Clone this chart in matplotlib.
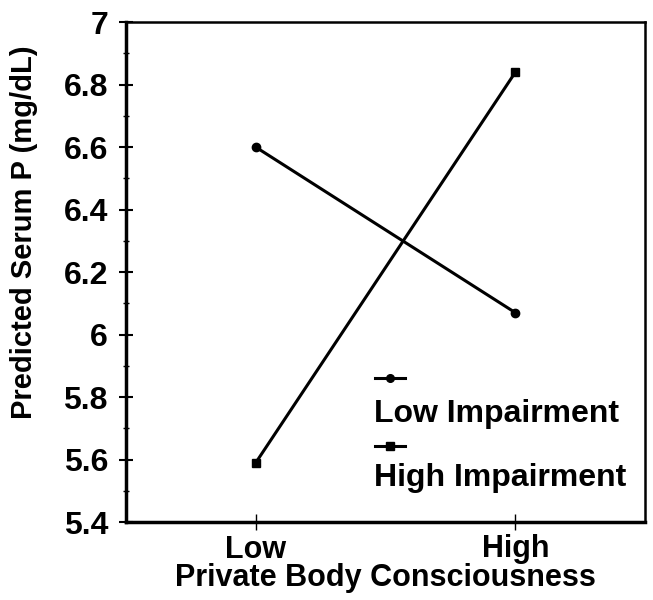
import matplotlib
matplotlib.use("Agg")
import matplotlib.pyplot as plt
from matplotlib.ticker import MultipleLocator

plt.rcParams['font.family'] = ['Liberation Sans', 'DejaVu Sans']
plt.rcParams['font.weight'] = 'bold'
plt.rcParams['axes.labelweight'] = 'bold'

# data
categories = ["Low", "High"]
low_impairment = [6.60, 6.07]
high_impairment = [5.59, 6.84]
series_names = ["Low Impairment", "High Impairment"]

fig = plt.figure(figsize=(6.53, 6.0), dpi=100)
ax = fig.add_axes([0.193, 0.13, 0.795, 0.833])

x = list(range(len(categories)))
ax.plot(x, low_impairment, color='black', lw=2.2, marker='o', ms=6)
ax.plot(x, high_impairment, color='black', lw=2.2, marker='s', ms=6)

ax.set_xlim(-0.5, 1.5)
ax.set_ylim(5.4, 7.0)
ax.set_xticks(x)
ax.set_xticklabels(categories)
ax.yaxis.set_major_locator(MultipleLocator(0.2))
ax.yaxis.set_minor_locator(MultipleLocator(0.1))
ax.set_yticklabels([f"{v:g}" for v in ax.get_yticks()])

ax.tick_params(axis='y', which='major', direction='inout', length=10, width=1.5,
               labelsize=23, pad=8)
ax.tick_params(axis='y', which='minor', direction='inout', length=4, width=1)
ax.tick_params(axis='x', direction='inout', length=12, width=1, labelsize=22, pad=3)

for side in ['left', 'bottom']:
    ax.spines[side].set_linewidth(2.5)
for side in ['top', 'right']:
    ax.spines[side].set_linewidth(1.8)

ax.set_xlabel("Private Body Consciousness", fontsize=22, labelpad=-1)
ax.set_ylabel("Predicted Serum P (mg/dL)", fontsize=21, labelpad=4)
ax.yaxis.set_label_coords(-0.17, 0.58)

# legend: marker line above each label
markers = ['o', 's']
key_y = [0.288, 0.152]
text_y = [0.2, 0.072]
for name, m, ky, ty in zip(series_names, markers, key_y, text_y):
    ax.plot([0.48, 0.538], [ky, ky], transform=ax.transAxes, color='black',
            lw=2.2, clip_on=False)
    ax.plot([0.509], [ky], transform=ax.transAxes, color='black', marker=m, ms=5.5)
    ax.text(0.478, ty, name, transform=ax.transAxes, fontsize=23,
            ha='left', va='baseline')

fig.savefig("out.png", dpi=100)
